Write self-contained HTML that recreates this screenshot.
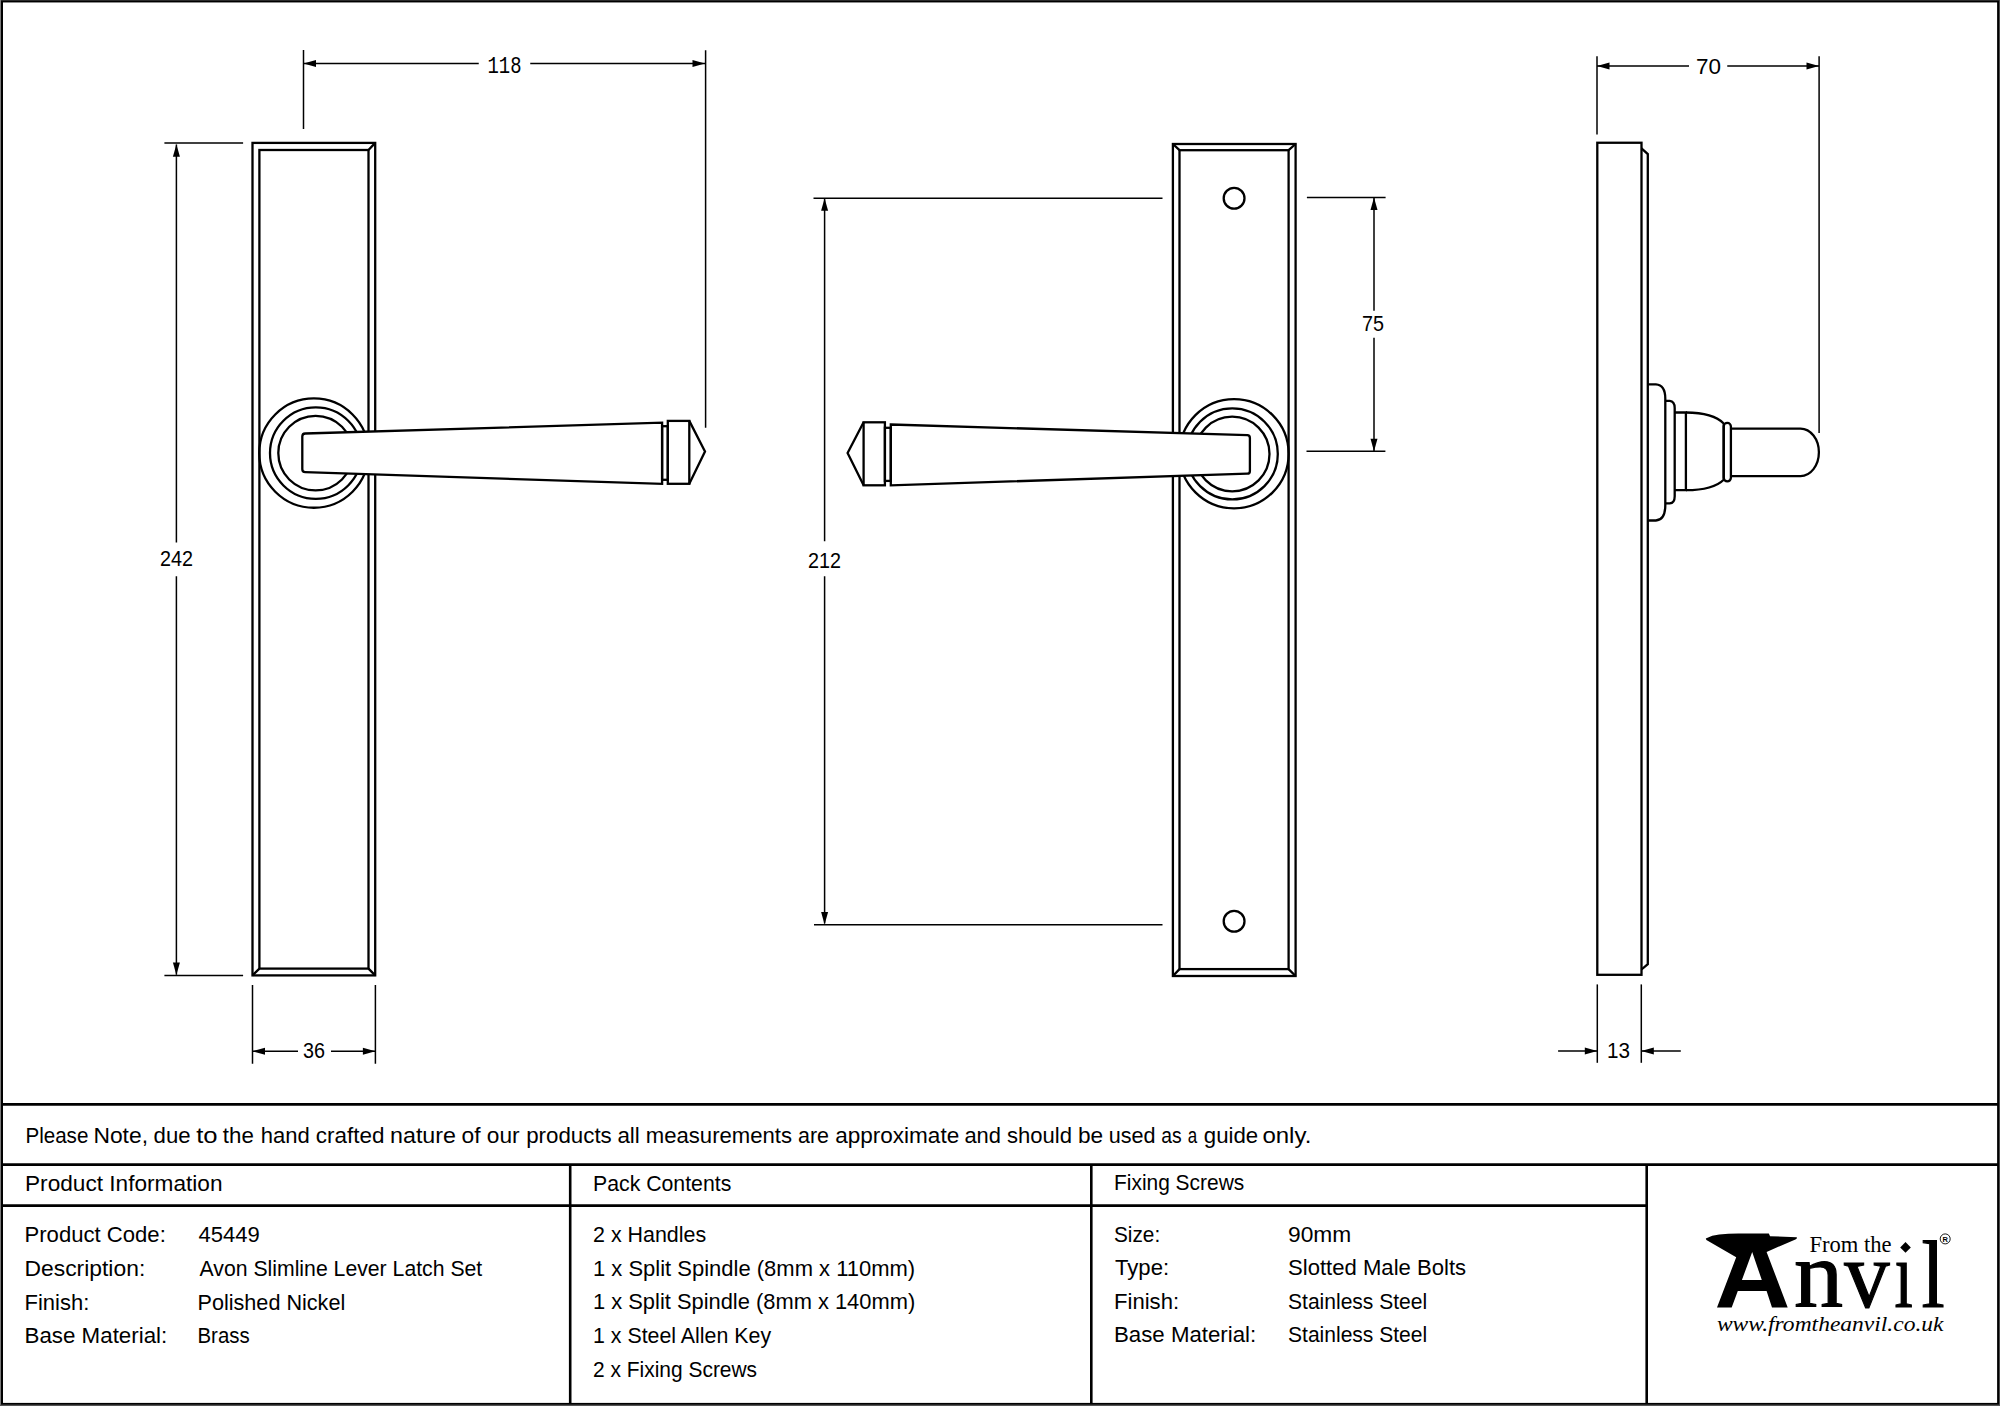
<!DOCTYPE html>
<html><head><meta charset="utf-8"><style>
html,body{margin:0;padding:0;background:#fff;width:2000px;height:1406px;overflow:hidden}
svg{display:block}
.o rect,.o circle,.o path{fill:none;stroke:#000}
.o .w{fill:#fff}
.d line{stroke:#000}
.f{fill:#000;stroke:none}
text{fill:#000}
</style></head><body>
<svg width="2000" height="1406" viewBox="0 0 2000 1406">
<rect x="0" y="0" width="2000" height="1406" fill="#000"/>
<rect x="0" y="0" width="2000" height="1" fill="#2a2a2a"/>
<rect x="0" y="0" width="1" height="1406" fill="#7a7a7a"/>
<rect x="1999" y="0" width="1" height="1406" fill="#4a4a4a"/>
<rect x="0" y="1404.6" width="2000" height="1.4" fill="#555"/>
<rect x="3" y="2.45" width="1994.1" height="1400.45" fill="#fff"/>
<g class="o" stroke-width="2.3">
<rect x="252.5" y="142.9" width="122.7" height="832.5"/>
<rect x="259.4" y="150.0" width="109.1" height="818.6"/>
<path d="M375.2,142.9 L368.5,150 M252.5,975.4 L259.4,968.6 M375.2,975.4 L368.5,968.6"/>
<circle cx="313.9" cy="453.1" r="54.65"/>
<circle cx="315.8" cy="453.1" r="45.8"/>
<circle cx="315.6" cy="453.1" r="37.3"/>
<path class="w" d="M305.2,433.5 L662.1,422.7 L662.1,483.8 L305.2,472.2 Q302.3,472.1 302.3,469.2 L302.3,436.5 Q302.3,433.6 305.2,433.5 Z"/>
<rect x="662.1" y="426.2" width="5.7" height="53.6"/>
<rect x="667.8" y="420.9" width="21.5" height="62.9"/>
<path d="M689.3,420.9 L705,451.4 L689.3,483.8"/>
</g>
<g class="o" stroke-width="2.3">
<rect x="1172.9" y="144" width="122.7" height="832"/>
<rect x="1179.5" y="150.2" width="109.1" height="818.9"/>
<path d="M1172.9,144 L1179.5,150.2 M1295.6,144 L1288.6,150.2 M1172.9,976 L1179.5,969.1 M1295.6,976 L1288.6,969.1"/>
<circle cx="1234.1" cy="198.25" r="10.4"/>
<circle cx="1234.1" cy="921.25" r="10.4"/>
<circle cx="1234.05" cy="453.75" r="54.6"/>
<circle cx="1232.3" cy="453.9" r="45.5"/>
<circle cx="1232.2" cy="454" r="37.3"/>
<path class="w" d="M890.8,424.5 L1247.3,435.2 Q1249.9,435.3 1249.9,438 L1249.9,470.9 Q1249.9,473.6 1247.3,473.7 L890.8,485.3 Z"/>
<rect x="884.9" y="427.8" width="5.9" height="53.1"/>
<rect x="863.6" y="422.3" width="21.3" height="63"/>
<path d="M863.6,422.3 L847.6,452.9 L863.6,485.3"/>
</g>
<g class="o" stroke-width="2.3">
<rect x="1597.3" y="142.75" width="44.2" height="832.05"/>
<path d="M1641.5,148.4 L1647.8,154.1 L1647.8,964.1 L1641.5,969.5"/>
<path d="M1647.8,384.4 L1655.9,384.4 Q1665.3,385 1665.3,398.7 L1665.3,505 Q1665.3,520 1655.9,520.5 L1647.8,520.5"/>
<path d="M1665.3,400.9 L1669.7,400.9 Q1674.7,401.5 1674.7,408 L1674.7,496.2 Q1674.7,503 1669.7,503.4 L1665.3,503.4"/>
<path d="M1674.7,412.5 L1685.9,412.5 L1685.9,490.2 L1674.7,490.2"/>
<path d="M1685.9,412.5 C1701,412.6 1716,415.5 1723.7,423.5 L1723.7,479.7 C1716,487.4 1701,490.1 1685.9,490.2"/>
<rect x="1723.7" y="422.9" width="7.2" height="58.5" rx="3.6" ry="3.6"/>
<path d="M1730.9,428.6 L1800.5,428.6 A18.4,23.75 0 0 1 1800.5,476.1 L1730.9,476.1"/>
</g>
<g class="d" stroke-width="1.5">
<line x1="303.5" y1="50" x2="303.5" y2="129" stroke-width="1.5"/>
<line x1="705.6" y1="50.2" x2="705.6" y2="427.8" stroke-width="1.5"/>
<line x1="303.5" y1="63.4" x2="478.75" y2="63.4" stroke-width="1.5"/>
<line x1="530.25" y1="63.4" x2="705.6" y2="63.4" stroke-width="1.5"/>
<line x1="164.4" y1="142.9" x2="243.1" y2="142.9" stroke-width="1.5"/>
<line x1="164.4" y1="975.4" x2="243.1" y2="975.4" stroke-width="1.5"/>
<line x1="176.4" y1="144.4" x2="176.4" y2="542.5" stroke-width="1.5"/>
<line x1="176.4" y1="576.3" x2="176.4" y2="974.75" stroke-width="1.5"/>
<line x1="252.5" y1="985" x2="252.5" y2="1063.75" stroke-width="1.5"/>
<line x1="375.4" y1="985" x2="375.4" y2="1063.75" stroke-width="1.5"/>
<line x1="252.5" y1="1051.25" x2="298" y2="1051.25" stroke-width="1.5"/>
<line x1="331" y1="1051.25" x2="375.4" y2="1051.25" stroke-width="1.5"/>
<line x1="813.5" y1="198.25" x2="1162.5" y2="198.25" stroke-width="1.5"/>
<line x1="814" y1="924.75" x2="1162.5" y2="924.75" stroke-width="1.5"/>
<line x1="824.6" y1="198.25" x2="824.6" y2="541.3" stroke-width="1.5"/>
<line x1="824.6" y1="576.3" x2="824.6" y2="923.5" stroke-width="1.5"/>
<line x1="1306.9" y1="197.5" x2="1385.6" y2="197.5" stroke-width="1.5"/>
<line x1="1306.5" y1="451.35" x2="1385.4" y2="451.35" stroke-width="1.5"/>
<line x1="1374" y1="197.5" x2="1374" y2="310.7" stroke-width="1.5"/>
<line x1="1374" y1="337.8" x2="1374" y2="451" stroke-width="1.5"/>
<line x1="1597" y1="56.25" x2="1597" y2="134.5" stroke-width="1.5"/>
<line x1="1819.1" y1="56.25" x2="1819.1" y2="432.9" stroke-width="1.5"/>
<line x1="1597" y1="66" x2="1689" y2="66" stroke-width="1.5"/>
<line x1="1727.25" y1="66" x2="1819" y2="66" stroke-width="1.5"/>
<line x1="1597.3" y1="984.4" x2="1597.3" y2="1062.8" stroke-width="1.5"/>
<line x1="1641.3" y1="984.4" x2="1641.3" y2="1062.8" stroke-width="1.5"/>
<line x1="1558.1" y1="1050.9" x2="1597.3" y2="1050.9" stroke-width="1.5"/>
<line x1="1641.3" y1="1050.9" x2="1680.8" y2="1050.9" stroke-width="1.5"/>
</g>
<polygon class="f" points="303.50,63.40 316.00,59.90 316.00,66.90"/>
<polygon class="f" points="705.00,63.40 692.50,59.90 692.50,66.90"/>
<polygon class="f" points="176.40,144.20 172.90,156.70 179.90,156.70"/>
<polygon class="f" points="176.40,974.90 172.90,962.40 179.90,962.40"/>
<polygon class="f" points="252.50,1051.25 265.00,1047.75 265.00,1054.75"/>
<polygon class="f" points="375.40,1051.25 362.90,1047.75 362.90,1054.75"/>
<polygon class="f" points="824.60,198.30 821.10,210.80 828.10,210.80"/>
<polygon class="f" points="824.60,924.50 821.10,912.00 828.10,912.00"/>
<polygon class="f" points="1374.00,197.60 1370.50,210.10 1377.50,210.10"/>
<polygon class="f" points="1374.00,451.20 1370.50,438.70 1377.50,438.70"/>
<polygon class="f" points="1597.00,66.00 1609.50,62.50 1609.50,69.50"/>
<polygon class="f" points="1819.00,66.00 1806.50,62.50 1806.50,69.50"/>
<polygon class="f" points="1597.30,1050.90 1584.80,1047.40 1584.80,1054.40"/>
<polygon class="f" points="1641.30,1050.90 1653.80,1047.40 1653.80,1054.40"/>
<g class="d" stroke-width="2.6">
<line x1="2" y1="1104.4" x2="1998" y2="1104.4" stroke-width="2.6"/>
<line x1="2" y1="1164.6" x2="1998" y2="1164.6" stroke-width="2.6"/>
<line x1="2" y1="1205.6" x2="1646.7" y2="1205.6" stroke-width="2.6"/>
<line x1="570.2" y1="1164.6" x2="570.2" y2="1404" stroke-width="2.6"/>
<line x1="1091.3" y1="1164.6" x2="1091.3" y2="1404" stroke-width="2.6"/>
<line x1="1646.7" y1="1164.6" x2="1646.7" y2="1404" stroke-width="2.6"/>
</g>
<text x="487.5" y="73" font-family="Liberation Mono" font-size="24" textLength="34.0" lengthAdjust="spacingAndGlyphs" >118</text>
<text x="160.0" y="565.8" font-family="Liberation Sans" font-size="22" textLength="33.0" lengthAdjust="spacingAndGlyphs" >242</text>
<text x="303.0" y="1058" font-family="Liberation Sans" font-size="22" textLength="22.0" lengthAdjust="spacingAndGlyphs" >36</text>
<text x="808.0" y="568.1" font-family="Liberation Sans" font-size="22" textLength="33.0" lengthAdjust="spacingAndGlyphs" >212</text>
<text x="1362.0" y="331" font-family="Liberation Sans" font-size="22" textLength="22.0" lengthAdjust="spacingAndGlyphs" >75</text>
<text x="1696.0" y="73.5" font-family="Liberation Sans" font-size="22" textLength="25.0" lengthAdjust="spacingAndGlyphs" >70</text>
<text x="1607.0" y="1058" font-family="Liberation Sans" font-size="22" textLength="23.0" lengthAdjust="spacingAndGlyphs" >13</text>
<text x="25.4" y="1142.6" font-family="Liberation Sans" font-size="21.8" textLength="63.0" lengthAdjust="spacingAndGlyphs" >Please</text>
<text x="93.4" y="1142.6" font-family="Liberation Sans" font-size="21.8" textLength="54.6" lengthAdjust="spacingAndGlyphs" >Note,</text>
<text x="153.6" y="1142.6" font-family="Liberation Sans" font-size="21.8" textLength="37.0" lengthAdjust="spacingAndGlyphs" >due</text>
<text x="196.2" y="1142.6" font-family="Liberation Sans" font-size="21.8" textLength="21.4" lengthAdjust="spacingAndGlyphs" >to</text>
<text x="222.8" y="1142.6" font-family="Liberation Sans" font-size="21.8" textLength="31.0" lengthAdjust="spacingAndGlyphs" >the</text>
<text x="260.8" y="1142.6" font-family="Liberation Sans" font-size="21.8" textLength="49.0" lengthAdjust="spacingAndGlyphs" >hand</text>
<text x="315.8" y="1142.6" font-family="Liberation Sans" font-size="21.8" textLength="68.6" lengthAdjust="spacingAndGlyphs" >crafted</text>
<text x="390.0" y="1142.6" font-family="Liberation Sans" font-size="21.8" textLength="66.0" lengthAdjust="spacingAndGlyphs" >nature</text>
<text x="461.6" y="1142.6" font-family="Liberation Sans" font-size="21.8" textLength="19.0" lengthAdjust="spacingAndGlyphs" >of</text>
<text x="486.8" y="1142.6" font-family="Liberation Sans" font-size="21.8" textLength="32.8" lengthAdjust="spacingAndGlyphs" >our</text>
<text x="526.2" y="1142.6" font-family="Liberation Sans" font-size="21.8" textLength="85.6" lengthAdjust="spacingAndGlyphs" >products</text>
<text x="617.4" y="1142.6" font-family="Liberation Sans" font-size="21.8" textLength="22.4" lengthAdjust="spacingAndGlyphs" >all</text>
<text x="645.8" y="1142.6" font-family="Liberation Sans" font-size="21.8" textLength="146.2" lengthAdjust="spacingAndGlyphs" >measurements</text>
<text x="798.0" y="1142.6" font-family="Liberation Sans" font-size="21.8" textLength="31.0" lengthAdjust="spacingAndGlyphs" >are</text>
<text x="835.2" y="1142.6" font-family="Liberation Sans" font-size="21.8" textLength="124.0" lengthAdjust="spacingAndGlyphs" >approximate</text>
<text x="964.4" y="1142.6" font-family="Liberation Sans" font-size="21.8" textLength="36.6" lengthAdjust="spacingAndGlyphs" >and</text>
<text x="1007.0" y="1142.6" font-family="Liberation Sans" font-size="21.8" textLength="65.0" lengthAdjust="spacingAndGlyphs" >should</text>
<text x="1078.0" y="1142.6" font-family="Liberation Sans" font-size="21.8" textLength="25.2" lengthAdjust="spacingAndGlyphs" >be</text>
<text x="1108.8" y="1142.6" font-family="Liberation Sans" font-size="21.8" textLength="46.8" lengthAdjust="spacingAndGlyphs" >used</text>
<text x="1161.2" y="1142.6" font-family="Liberation Sans" font-size="21.8" textLength="20.4" lengthAdjust="spacingAndGlyphs" >as</text>
<text x="1187.8" y="1142.6" font-family="Liberation Sans" font-size="21.8" textLength="9.4" lengthAdjust="spacingAndGlyphs" >a</text>
<text x="1203.8" y="1142.6" font-family="Liberation Sans" font-size="21.8" textLength="54.4" lengthAdjust="spacingAndGlyphs" >guide</text>
<text x="1262.4" y="1142.6" font-family="Liberation Sans" font-size="21.8" textLength="49.0" lengthAdjust="spacingAndGlyphs" >only.</text>
<text x="25.0" y="1190.8" font-family="Liberation Sans" font-size="21.8" textLength="197.5" lengthAdjust="spacingAndGlyphs" >Product Information</text>
<text x="593.0" y="1191" font-family="Liberation Sans" font-size="21.8" textLength="138.3" lengthAdjust="spacingAndGlyphs" >Pack Contents</text>
<text x="1114.0" y="1190" font-family="Liberation Sans" font-size="21.8" textLength="130.2" lengthAdjust="spacingAndGlyphs" >Fixing Screws</text>
<text x="24.5" y="1242" font-family="Liberation Sans" font-size="21.8" textLength="141.3" lengthAdjust="spacingAndGlyphs" >Product Code:</text>
<text x="198.5" y="1242" font-family="Liberation Sans" font-size="21.8" textLength="61.3" lengthAdjust="spacingAndGlyphs" >45449</text>
<text x="24.5" y="1276.2" font-family="Liberation Sans" font-size="21.8" textLength="120.75" lengthAdjust="spacingAndGlyphs" >Description:</text>
<text x="199.5" y="1276.2" font-family="Liberation Sans" font-size="21.8" textLength="282.75" lengthAdjust="spacingAndGlyphs" >Avon Slimline Lever Latch Set</text>
<text x="24.5" y="1310" font-family="Liberation Sans" font-size="21.8" textLength="64.75" lengthAdjust="spacingAndGlyphs" >Finish:</text>
<text x="197.5" y="1310" font-family="Liberation Sans" font-size="21.8" textLength="147.75" lengthAdjust="spacingAndGlyphs" >Polished Nickel</text>
<text x="24.5" y="1343.3" font-family="Liberation Sans" font-size="21.8" textLength="142.75" lengthAdjust="spacingAndGlyphs" >Base Material:</text>
<text x="197.5" y="1343.3" font-family="Liberation Sans" font-size="21.8" textLength="52.2" lengthAdjust="spacingAndGlyphs" >Brass</text>
<text x="593.0" y="1242.1" font-family="Liberation Sans" font-size="21.8" textLength="113.2" lengthAdjust="spacingAndGlyphs" >2 x Handles</text>
<text x="593.0" y="1275.8" font-family="Liberation Sans" font-size="21.8" textLength="322.2" lengthAdjust="spacingAndGlyphs" >1 x Split Spindle (8mm x 110mm)</text>
<text x="593.0" y="1309.2" font-family="Liberation Sans" font-size="21.8" textLength="322.2" lengthAdjust="spacingAndGlyphs" >1 x Split Spindle (8mm x 140mm)</text>
<text x="593.0" y="1342.8" font-family="Liberation Sans" font-size="21.8" textLength="178.1" lengthAdjust="spacingAndGlyphs" >1 x Steel Allen Key</text>
<text x="593.0" y="1376.7" font-family="Liberation Sans" font-size="21.8" textLength="164.1" lengthAdjust="spacingAndGlyphs" >2 x Fixing Screws</text>
<text x="1114.0" y="1241.6" font-family="Liberation Sans" font-size="21.8" textLength="46.2" lengthAdjust="spacingAndGlyphs" >Size:</text>
<text x="1288.0" y="1241.6" font-family="Liberation Sans" font-size="21.8" textLength="63.2" lengthAdjust="spacingAndGlyphs" >90mm</text>
<text x="1115.0" y="1275" font-family="Liberation Sans" font-size="21.8" textLength="54.1" lengthAdjust="spacingAndGlyphs" >Type:</text>
<text x="1288.0" y="1275" font-family="Liberation Sans" font-size="21.8" textLength="178.1" lengthAdjust="spacingAndGlyphs" >Slotted Male Bolts</text>
<text x="1114.0" y="1308.6" font-family="Liberation Sans" font-size="21.8" textLength="65.1" lengthAdjust="spacingAndGlyphs" >Finish:</text>
<text x="1288.0" y="1308.6" font-family="Liberation Sans" font-size="21.8" textLength="139.2" lengthAdjust="spacingAndGlyphs" >Stainless Steel</text>
<text x="1114.0" y="1342" font-family="Liberation Sans" font-size="21.8" textLength="142.2" lengthAdjust="spacingAndGlyphs" >Base Material:</text>
<text x="1288.0" y="1342" font-family="Liberation Sans" font-size="21.8" textLength="139.2" lengthAdjust="spacingAndGlyphs" >Stainless Steel</text>
<path class="f" d="M1705.8,1238.4 Q1712,1235 1719.2,1234.6 Q1728,1233.7 1738.4,1233.6 L1768.8,1233.6 L1770.1,1236.2 L1796.7,1237.2 Q1797.5,1238.5 1795.4,1239.4 L1766.6,1251.9 L1787.7,1307.6 L1772,1307.6 L1766.6,1290.9 L1737.8,1290.9 L1731.7,1307.6 L1717,1307.6 L1736.2,1257.3 L1706.4,1240 Z M1752.2,1251.9 L1741.9,1280.1 L1761.8,1280.1 Z"/>
<text x="1794.10" y="1307.3" font-family="Liberation Serif" font-size="95" textLength="49.10" lengthAdjust="spacingAndGlyphs" stroke="#000" stroke-width="1.2">n</text>
<text x="1844.30" y="1307.3" font-family="Liberation Serif" font-size="95" textLength="45.30" lengthAdjust="spacingAndGlyphs" stroke="#000" stroke-width="1.2">v</text>
<text x="1894.40" y="1307.3" font-family="Liberation Serif" font-size="95" textLength="18.30" lengthAdjust="spacingAndGlyphs" stroke="#000" stroke-width="1.2">ı</text>
<text x="1921.40" y="1307.3" font-family="Liberation Serif" font-size="95" textLength="23.20" lengthAdjust="spacingAndGlyphs" stroke="#000" stroke-width="1.2">l</text>
<text x="1809.40" y="1251.7" font-family="Liberation Serif" font-size="22.5" textLength="82.10" lengthAdjust="spacingAndGlyphs" stroke="#000" stroke-width="0">From the</text>
<text x="1716.90" y="1330.7" font-family="Liberation Serif" font-size="21" textLength="226.60" lengthAdjust="spacingAndGlyphs" stroke="#000" stroke-width="0"><tspan font-style='italic'>www.fromtheanvil.co.uk</tspan></text>
<polygon class="f" points="1905.5,1242.1 1910.8,1247.4 1905.5,1252.7 1900.2,1247.4"/>
<circle cx="1945.2" cy="1238.9" r="5" fill="none" stroke="#000" stroke-width="0.9"/>
<text x="1945.2" y="1241.8" font-family="Liberation Sans" font-size="7.5" font-weight="bold" text-anchor="middle">R</text>
</svg>
</body></html>
